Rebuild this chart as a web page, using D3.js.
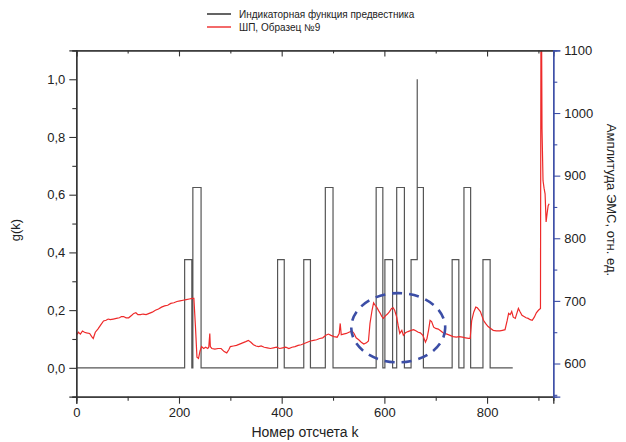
<!DOCTYPE html>
<html lang="ru">
<head>
    <meta charset="UTF-8">
    <script src="https://d3js.org/d3.v7.min.js"></script>
    <title>g(k)</title>
    <style>
        body { margin: 0; background: #fff; }
        text { font-family: "Liberation Sans", Arial, sans-serif; fill: #222; }
    </style>
</head>
<body>
    <div id="chart"></div>

    <script type="text/javascript">
        // indicator function g(k): step corners (k, level)
        const indicatorK = [0, 211, 211, 225, 225, 227, 227, 243, 243, 392, 392, 405, 405, 443, 443, 456, 456,
            485, 485, 500, 500, 584, 584, 597, 597, 601, 601, 616, 616, 624, 624, 639, 639, 652, 652, 664,
            664, 664, 676, 676, 732, 732, 745, 745, 755, 755, 768, 768, 792, 792, 806, 806, 850];
        const indicatorG = [0, 0, 0.375, 0.375, 0, 0, 0.625, 0.625, 0, 0, 0.375, 0.375, 0, 0, 0.375, 0.375, 0,
            0, 0.625, 0.625, 0, 0, 0.625, 0.625, 0, 0, 0.375, 0.375, 0, 0, 0.625, 0.625, 0, 0, 0.375, 0.375,
            1.0, 0.625, 0.625, 0, 0, 0.375, 0.375, 0, 0, 0.625, 0.625, 0, 0, 0.375, 0.375, 0, 0];

        // EMS amplitude, sample No 9
        const sampleK = [0, 4, 8, 12, 16, 20, 26, 30, 33, 37, 42, 47, 53, 58, 62, 66, 72, 78, 84, 88, 92, 97,
            102, 108, 112, 116, 120, 125, 130, 136, 142, 148, 154, 160, 166, 172, 178, 184, 190, 196, 202,
            208, 214, 220, 226, 229, 232, 235, 238, 241, 244, 248, 252, 256, 258, 260, 261, 264, 270, 276,
            282, 288, 293, 297, 300, 306, 312, 318, 324, 330, 335, 340, 345, 350, 355, 360, 366, 372, 378,
            384, 390, 396, 402, 408, 414, 420, 426, 432, 438, 444, 450, 456, 462, 468, 474, 480, 486, 491,
            496, 502, 508, 512, 514, 516, 520, 526, 531, 537, 541, 545, 550, 555, 560, 565, 569, 572, 576,
            579, 582, 585, 589, 592, 595, 598, 602, 606, 610, 614, 617, 620, 624, 627, 630, 634, 637, 641,
            646, 652, 657, 662, 666, 670, 675, 680, 683, 686, 689, 692, 696, 700, 705, 710, 716, 722, 728,
            734, 740, 746, 752, 758, 764, 767, 770, 774, 778, 781, 784, 787, 790, 793, 797, 802, 807, 812,
            818, 825, 830, 835, 839, 842, 845, 848, 851, 855, 858, 861, 864, 868, 872, 876, 880, 884, 888,
            892, 896, 900, 904, 905, 906, 907, 909, 911, 913, 915, 917, 919, 921];
        const amplitude = [645, 650, 647, 652, 650, 649, 648, 643, 640, 650, 655, 661, 668, 669, 671, 670, 671,
            672, 673, 675, 675, 673, 673, 677, 680, 681, 678, 678, 679, 678, 680, 682, 685, 687, 690, 692,
            693, 696, 697, 699, 700, 701, 702, 703, 704, 704, 660, 610, 608, 620, 627, 624, 626, 624, 626,
            648, 627, 624, 623, 624, 624, 619, 617, 622, 627, 628, 629, 631, 633, 635, 637, 634, 630, 628,
            627, 628, 626, 625, 624, 625, 626, 624, 625, 626, 624, 626, 627, 629, 630, 632, 634, 636, 637,
            638, 640, 641, 645, 647, 645, 643, 642, 648, 664, 646, 647, 648, 650, 652, 648, 641, 638, 634,
            631, 633, 636, 664, 685, 697, 693, 690, 684, 680, 675, 672, 676, 679, 683, 688, 689, 685, 674,
            660, 648, 653, 645, 649, 651, 653, 654, 652, 650, 649, 645, 634, 640, 653, 669, 667, 658, 656,
            655, 652, 648, 647, 645, 643, 642, 643, 642, 641, 640, 640, 668, 682, 690, 689, 686, 683, 676,
            669, 664, 659, 656, 653, 652, 652, 653, 654, 668, 680, 678, 683, 674, 672, 680, 688, 683, 677,
            675, 673, 672, 670, 669, 674, 681, 685, 688, 1160, 1160, 975, 892, 880, 871, 826, 840, 852, 855];

        const xTicks = [0, 200, 400, 600, 800];
        const gTicks = [0, 0.2, 0.4, 0.6, 0.8, 1.0];
        const ampTicks = [600, 700, 800, 900, 1000, 1100];
        const legendLabels = ["Индикаторная функция предвестника", "ШП, Образец №9"];

        // dashed mark around the precursor zone: centre (k, g) and radii
        const zoneCenter = [627, 0.139];
        const zoneRadius = [91.5, 0.12];

        const width = 626;
        const height = 442;
        const plotLeft = 76.3, plotRight = 553.3, plotTop = 50.4, plotBottom = 396.7;
        const axisColor = "#333";
        const blue = "#3c4ea6";

        const ru = d3.formatLocale({ decimal: ",", thousands: " ", grouping: [3], currency: ["", ""] });

        const x = d3.scaleLinear().domain([0, 929]).range([plotLeft, plotRight]);
        const yG = d3.scaleLinear().domain([-0.1, 1.1]).range([plotBottom, plotTop]);
        const yA = d3.scaleLinear().domain([547, 1100]).range([plotBottom, plotTop]);

        const svg = d3.select("#chart")
            .append("svg")
            .attr("width", width)
            .attr("height", height);

        svg.append("defs").append("clipPath")
            .attr("id", "plotClip")
            .append("rect")
            .attr("x", plotLeft)
            .attr("y", plotTop)
            .attr("width", plotRight - plotLeft)
            .attr("height", plotBottom - plotTop);

        // black indicator line
        const gLine = d3.line()
            .x((d, i) => x(indicatorK[i]))
            .y(d => yG(d));

        svg.append("path")
            .datum(indicatorG)
            .attr("d", gLine)
            .attr("fill", "none")
            .attr("stroke", "#555")
            .attr("stroke-width", 1.2)
            .attr("clip-path", "url(#plotClip)");

        // red amplitude line
        const aLine = d3.line()
            .x((d, i) => x(sampleK[i]))
            .y(d => yA(d));

        svg.append("path")
            .datum(amplitude)
            .attr("d", aLine)
            .attr("fill", "none")
            .attr("stroke", "#ee2a2a")
            .attr("stroke-width", 1.2)
            .attr("clip-path", "url(#plotClip)");

        // dashed ellipse
        svg.append("ellipse")
            .attr("cx", x(zoneCenter[0]))
            .attr("cy", yG(zoneCenter[1]))
            .attr("rx", x(zoneCenter[0] + zoneRadius[0]) - x(zoneCenter[0]))
            .attr("ry", yG(0) - yG(zoneRadius[1]))
            .attr("fill", "none")
            .attr("stroke", blue)
            .attr("stroke-width", 2.6)
            .attr("stroke-dasharray", "10,7");

        // axes
        const bottomAxis = d3.axisBottom(x).tickValues(xTicks).tickSize(7).tickPadding(4).tickFormat(d3.format("d"));
        const bottomMinor = d3.axisBottom(x).tickValues(d3.range(100, 929, 200)).tickSize(4).tickFormat("");
        const topAxis = d3.axisBottom(x).tickValues(xTicks).tickSize(6).tickFormat("");
        const topMinor = d3.axisBottom(x).tickValues(d3.range(100, 929, 200)).tickSize(3).tickFormat("");
        const leftAxis = d3.axisLeft(yG).tickValues(gTicks).tickSize(7).tickPadding(4).tickFormat(ru.format(".1f"));
        const leftMinor = d3.axisLeft(yG).tickValues([-0.1, 0.1, 0.3, 0.5, 0.7, 0.9, 1.1]).tickSize(4).tickFormat("");
        const rightAxis = d3.axisRight(yA).tickValues(ampTicks).tickSize(7).tickPadding(4).tickFormat(d3.format("d"));
        const rightMinor = d3.axisRight(yA).tickValues([550, 650, 750, 850, 950, 1050]).tickSize(4).tickFormat("");

        function styleAxis(g, color) {
            g.select(".domain").attr("stroke", color).attr("stroke-width", 1.3);
            g.selectAll(".tick line").attr("stroke", color).attr("stroke-width", 1.1);
            g.selectAll(".tick text")
                .style("font-size", "13px")
                .style("font-family", "'Liberation Sans', Arial, sans-serif")
                .attr("fill", "#222");
        }

        svg.append("g").attr("transform", `translate(0,${plotBottom})`).call(bottomAxis).call(styleAxis, axisColor);
        svg.append("g").attr("transform", `translate(0,${plotBottom})`).call(bottomMinor).call(styleAxis, axisColor);
        svg.append("g").attr("transform", `translate(0,${plotTop})`).call(topAxis).call(styleAxis, axisColor);
        svg.append("g").attr("transform", `translate(0,${plotTop})`).call(topMinor).call(styleAxis, axisColor);
        svg.append("g").attr("transform", `translate(${plotLeft},0)`).call(leftAxis).call(styleAxis, axisColor);
        svg.append("g").attr("transform", `translate(${plotLeft},0)`).call(leftMinor).call(styleAxis, axisColor);
        svg.append("g").attr("transform", `translate(${plotRight},0)`).call(rightAxis).call(styleAxis, blue);
        svg.append("g").attr("transform", `translate(${plotRight},0)`).call(rightMinor).call(styleAxis, blue);

        // axis titles
        svg.append("text")
            .attr("x", 305)
            .attr("y", 437)
            .attr("text-anchor", "middle")
            .style("font-size", "14px")
            .text("Номер отсчета k");

        svg.append("text")
            .attr("transform", "translate(20,230) rotate(-90)")
            .attr("text-anchor", "middle")
            .style("font-size", "13px")
            .text("g(k)");

        svg.append("text")
            .attr("transform", "translate(607,200) rotate(90)")
            .attr("text-anchor", "middle")
            .style("font-size", "13px")
            .text("Амплитуда ЭМС, отн. ед.");

        // legend
        const legendColors = ["#222", "#ee2a2a"];
        const legend = svg.append("g").attr("transform", "translate(207,14)");
        legendLabels.forEach((label, i) => {
            legend.append("line")
                .attr("x1", 0).attr("x2", 24)
                .attr("y1", i * 13).attr("y2", i * 13)
                .attr("stroke", legendColors[i])
                .attr("stroke-width", 1.4);
            legend.append("text")
                .attr("x", 32)
                .attr("y", i * 13)
                .attr("dy", "0.35em")
                .style("font-size", "10px")
                .text(label);
        });
    </script>
</body>
</html>
